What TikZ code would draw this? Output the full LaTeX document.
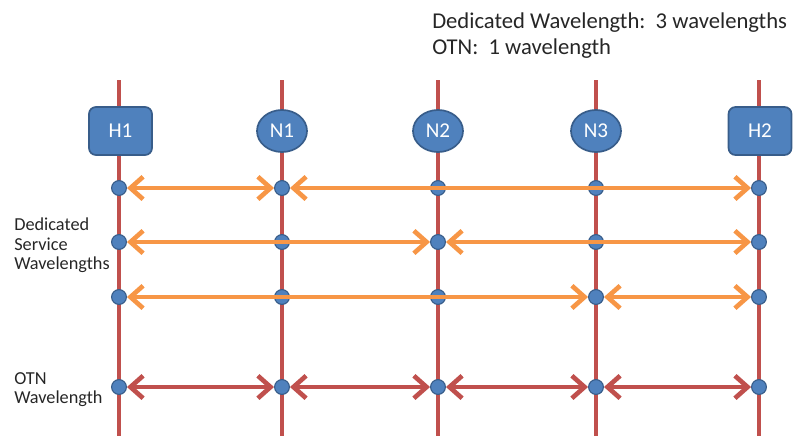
\documentclass[tikz,border=0pt]{standalone}
\usepackage{fontspec}
\setmainfont{Carlito}
\usetikzlibrary{shapes.geometric,arrows.meta}

\definecolor{fiberred}{HTML}{C0504D}
\definecolor{lambdaorange}{HTML}{F79646}
\definecolor{nodeblue}{HTML}{4F81BD}
\definecolor{nodeedge}{HTML}{385D8A}

\tikzstyle{host}=[draw=nodeedge, fill=nodeblue, line width=1.2pt, rounded corners=5pt, minimum width=1.575cm, minimum height=1.2cm, text=white, font=\fontsize{15}{16}\selectfont]
\tikzstyle{switch}=[host, ellipse, minimum width=1.25cm, minimum height=1.05cm, inner sep=0pt]
\tikzstyle{port}=[circle, draw=nodeedge, fill=nodeblue, line width=0.8pt, minimum size=0.37cm, inner sep=0pt]
\tikzstyle{fiber}=[fiberred, line width=2.6pt]
\tikzstyle{lambda}=[lambdaorange, line width=3.3pt, {Straight Barb[length=9pt,width=16pt]}-{Straight Barb[length=9pt,width=16pt]}]
\tikzstyle{otn}=[lambda, fiberred]
\tikzstyle{caption}=[align=left, inner sep=0pt, anchor=north west, text=black!85]

\begin{document}
\begin{tikzpicture}[x=0.025cm, y=-0.025cm]
      \useasboundingbox (0, 0) rectangle (806, 436);

      % fibers
      \foreach \col/\x in {h1/119, n1/282, n2/438, n3/596, h2/759} {
        \coordinate (\col-top) at (\x, 80);
        \coordinate (\col-bot) at (\x, 436);
        \draw[fiber] (\col-top) -- (\col-bot);
      }

      \node[host] (H1) at (120.5, 131) {H1};
      \node[switch] (N1) at (282, 131) {N1};
      \node[switch] (N2) at (438, 131) {N2};
      \node[switch] (N3) at (596, 131) {N3};
      \node[host] (H2) at (760, 131) {H2};

      % ports
      \foreach \r/\y in {a/188, b/242, c/297, d/387} {
        \node[port] (h1\r) at (119, \y) {};
        \node[port] (n1\r) at (282, \y) {};
        \node[port] (n2\r) at (438, \y) {};
        \node[port] (n3\r) at (596, \y) {};
        \node[port] (h2\r) at (759, \y) {};
      }

      \draw[lambda] (h1a) to (n1a);
      \draw[lambda] (n1a) to (h2a);
      \draw[lambda] (h1b) to (n2b);
      \draw[lambda] (n2b) to (h2b);
      \draw[lambda] (h1c) to (n3c);
      \draw[lambda] (n3c) to (h2c);

      \draw[otn] (h1d) to (n1d);
      \draw[otn] (n1d) to (n2d);
      \draw[otn] (n2d) to (n3d);
      \draw[otn] (n3d) to (h2d);

      \node[caption, font=\fontsize{16.1}{18.5}\selectfont] (legend) at (432, 12)
        {Dedicated Wavelength:~~3 wavelengths\\OTN:~~1 wavelength};
      \node[caption, font=\fontsize{13}{13.8}\selectfont] (dsw) at (14, 218)
        {Dedicated\\Service\\Wavelengths};
      \node[caption, font=\fontsize{13}{13.8}\selectfont] (otnw) at (14, 372)
        {OTN\\Wavelength};
    \end{tikzpicture}
\end{document}
